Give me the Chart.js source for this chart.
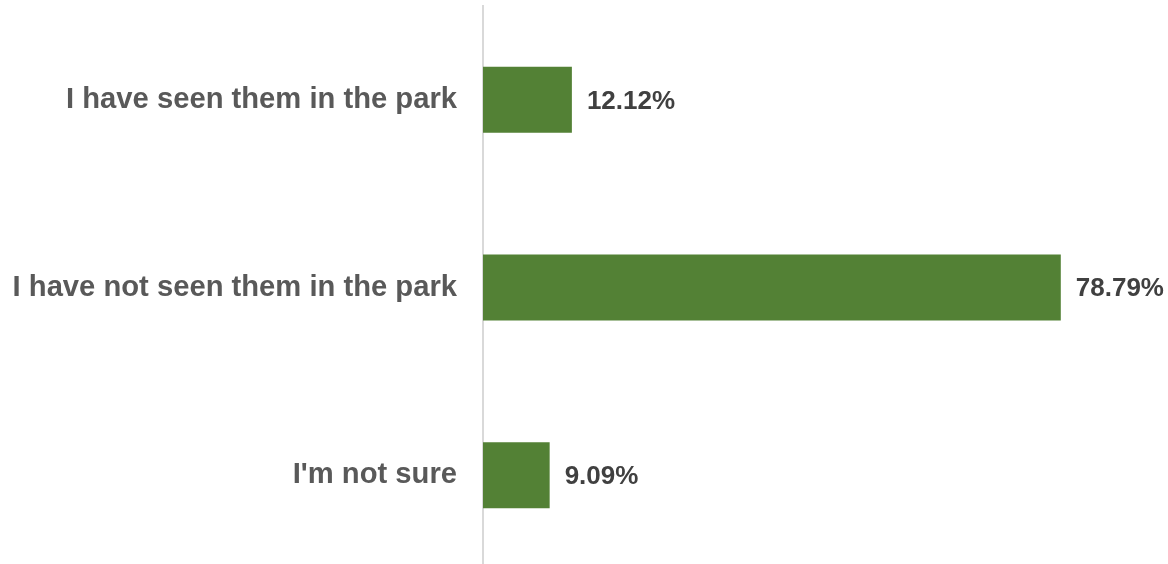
<!DOCTYPE html>
<html>
<head>
<meta charset="utf-8">
<script src="https://cdn.jsdelivr.net/npm/chart.js@4/dist/chart.umd.min.js"></script>
<style>
  html, body { margin: 0; padding: 0; background: #fff; overflow: hidden; }
  #wrap { width: 1168px; height: 570px; position: relative; }
</style>
</head>
<body>
<div id="wrap"><canvas id="sightingsChart"></canvas></div>
<script>
const categories = ['I have seen them in the park', 'I have not seen them in the park', "I'm not sure"];
const percentages = [12.12, 78.79, 9.09];

// writes the percentage just past the end of each bar
const valueLabels = {
  id: 'valueLabels',
  afterDatasetsDraw(chart) {
    const ctx = chart.ctx;
    const meta = chart.getDatasetMeta(0);
    ctx.save();
    ctx.font = 'bold 26px "Liberation Sans", Arial, sans-serif';
    ctx.fillStyle = '#404040';
    ctx.textAlign = 'left';
    ctx.textBaseline = 'middle';
    meta.data.forEach((bar, i) => {
      ctx.fillText(percentages[i].toFixed(2) + '%', bar.x + 15, bar.y + 1.5);
    });
    ctx.restore();
  }
};

const ctx = document.getElementById('sightingsChart').getContext('2d');
new Chart(ctx, {
  type: 'bar',
  data: {
    labels: categories,
    datasets: [{
      data: percentages,
      backgroundColor: '#538135',
      borderWidth: 0,
      barPercentage: 0.352,
      categoryPercentage: 1
    }]
  },
  options: {
    indexAxis: 'y',
    responsive: true,
    maintainAspectRatio: false,
    animation: false,
    layout: {
      padding: { top: 6, bottom: 1, left: 0, right: 25 }
    },
    scales: {
      x: {
        display: false,
        min: 0,
        max: 90
      },
      y: {
        afterFit(scale) {
          // fixed axis width, and no extra room above/below for the tick labels
          scale.width = 483;
          scale.paddingTop = 0;
          scale.paddingBottom = 0;
        },
        grid: { display: false, drawTicks: false },
        border: { display: true, color: '#d9d9d9', width: 2 },
        ticks: {
          padding: 26,
          color: '#595959',
          font: { family: '"Liberation Sans", Arial, sans-serif', size: 29.2, weight: 'bold' }
        }
      }
    },
    plugins: {
      legend: { display: false },
      tooltip: { enabled: false }
    }
  },
  plugins: [valueLabels]
});
</script>
</body>
</html>
